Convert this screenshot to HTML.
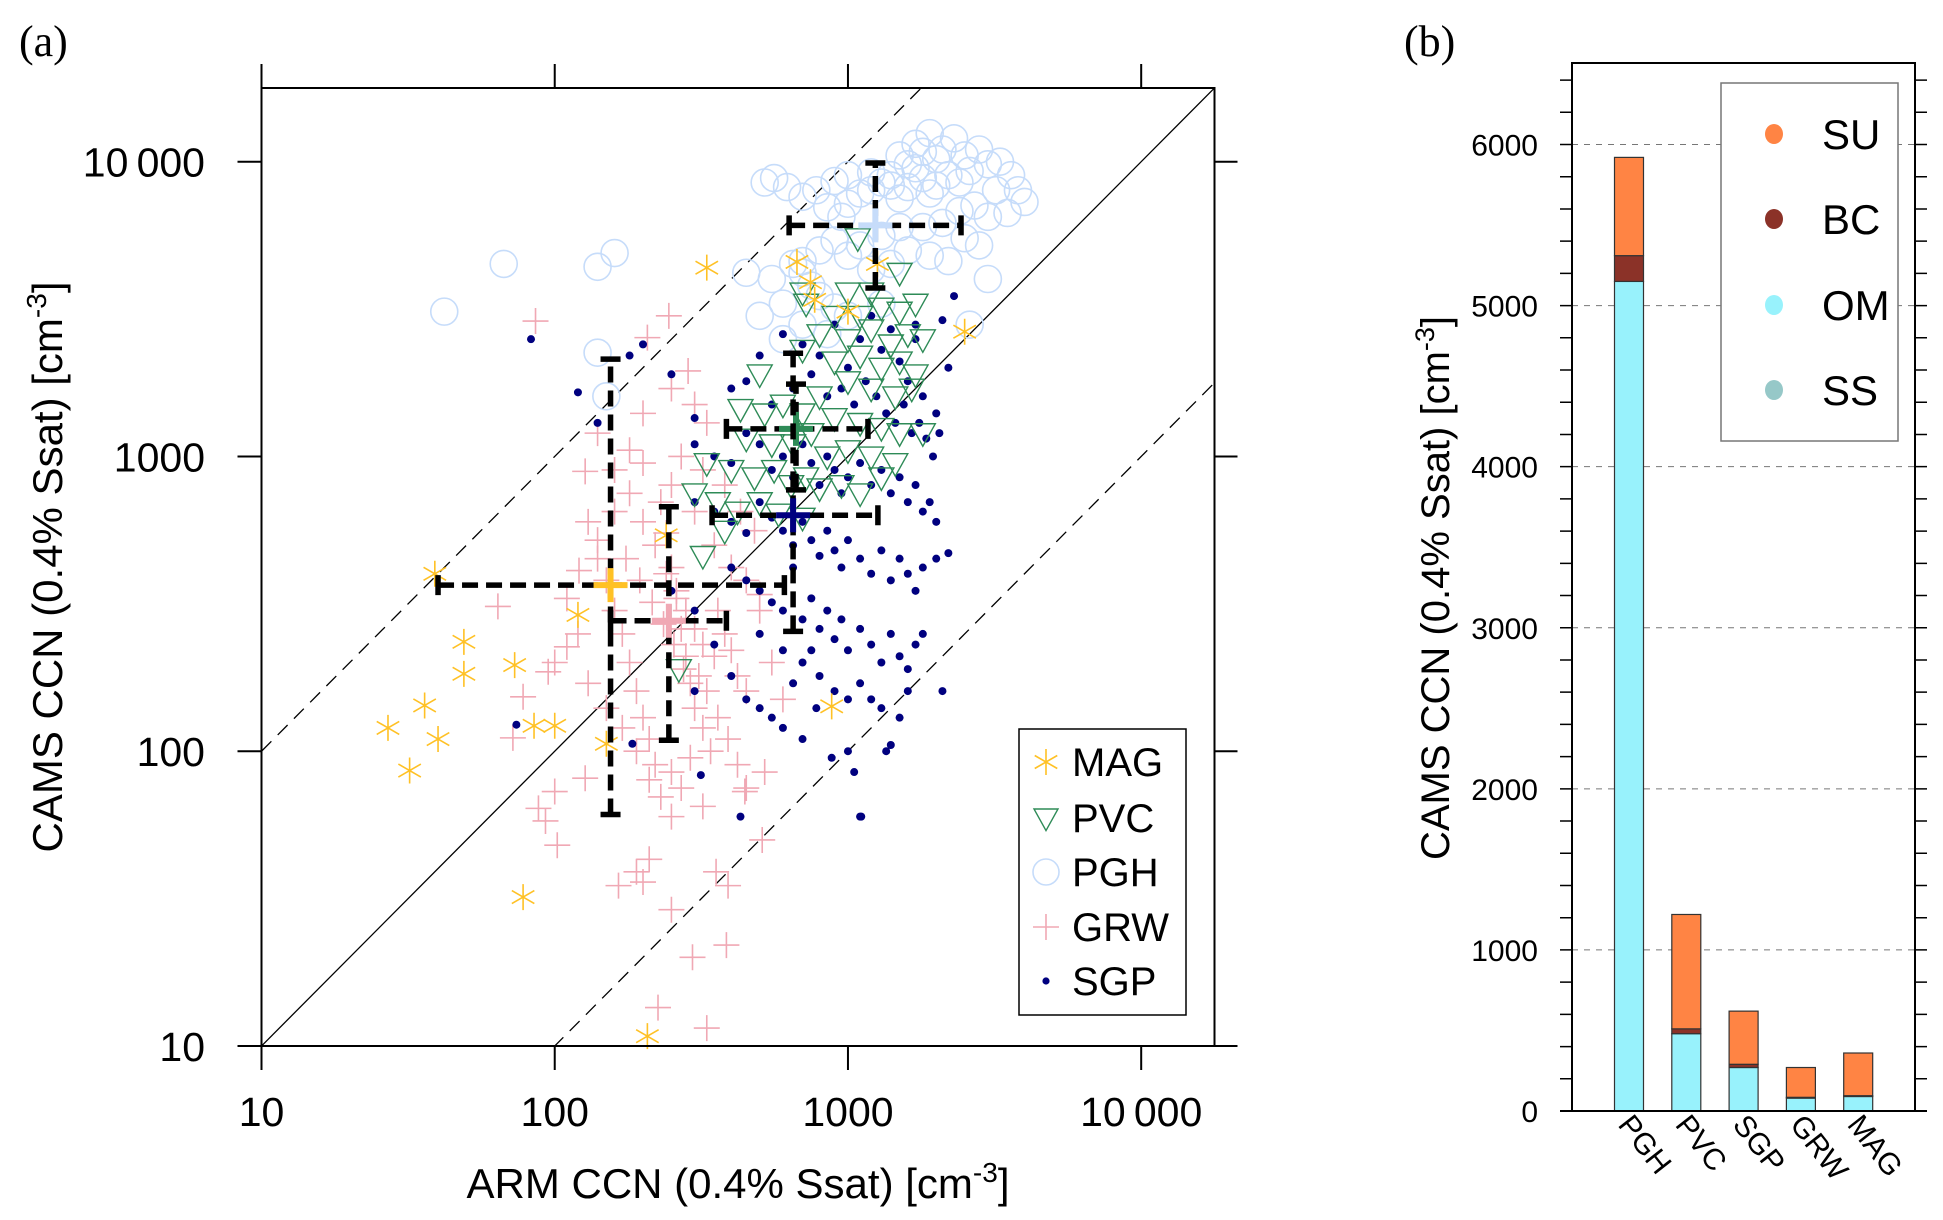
<!DOCTYPE html>
<html><head><meta charset="utf-8"><style>
html,body{margin:0;padding:0;background:#fff;overflow:hidden;width:1943px;height:1220px}
svg{display:block}
text{font-family:"Liberation Sans",sans-serif;fill:#000}
</style></head><body>
<svg id="fig" width="1943" height="1220" viewBox="0 0 1943 1220" xmlns="http://www.w3.org/2000/svg">
<g id="pa"></g>
<g id="pb"></g>
</svg>
<script>
// ---------- Panel (a) data ----------
const sgpX=[600,700,800,900,1000,1100,1200,1300,1400,1500,1600,1700,1800,2000,2200,2300,2100,500,450,400,550,650,750,850,950,1050,1150,1250,1350,1450,1550,1650,1750,1850,1950,2050,
300,350,400,450,500,550,600,650,700,750,800,850,900,950,1000,1100,1200,1300,1400,1500,1600,1700,1800,1900,2000,
300,350,400,450,500,550,600,650,700,750,800,850,900,950,1000,1100,1200,1300,1400,1500,1600,1700,1800,2000,2200,
400,450,500,550,600,650,700,750,800,850,900,950,1000,1100,1200,1300,1400,1500,1600,1700,1800,2100,500,600,700,800,900,1000,1100,1200,1300,1500,1600,
350,300,250,300,400,450,500,550,600,700,750,650,
83,250,1100,1350,1400,1050,1700,780,880,1000,140,200,120,180,300,74,184,315,430,1110];
const sgpY=[2600,2400,2200,2800,2000,2500,3000,2300,2700,2100,1800,2500,1600,1400,2000,3500,2900,2200,1800,1700,1500,1700,1900,1600,1700,1500,1800,1600,1400,1300,1500,1200,1300,1150,1000,1200,
1100,1000,950,1200,1100,900,1000,850,1100,950,800,1000,900,750,850,950,800,900,750,850,700,800,650,700,600,
700,650,600,550,700,620,560,500,600,520,460,560,480,420,520,450,400,480,380,450,400,350,420,450,470,
420,380,350,320,300,420,280,330,260,300,240,280,220,260,230,200,250,210,190,230,250,160,250,220,200,180,160,150,170,150,140,130,160,
230,300,350,160,180,150,140,130,120,110,220,170,
2500,1900,60,100,105,85,2800,140,95,100,1300,2400,1650,2200,1350,123,106,83,60,60];

const grwX=[86,207,245,285,64,295,385,330,225,250,200,165,210,190,355,390,510,93,102,88,100,127,250,320,520,445,72,78,110,95,121,127,
130,140,150,160,170,180,190,200,210,220,230,240,250,260,270,280,290,300,320,340,360,380,400,420,450,500,550,600,140,160,180,200,220,240,260,280,300,320,350,
200,250,300,350,400,450,500,120,110,100,130,150,170,190,210,230,250,270,290,310,330,360,390,420,450,175,195,215,235,255,275,300,330,250,200,180,160,140,270,320,380,430,480];
const grwY=[2880,2530,3000,1950,310,20,22,11.5,13.5,29,36,35,43,39,39,35,50,58,48,64,73,81,85,65,85,73,111,153,226,186,410,890,
600,450,380,300,250,200,160,130,110,90,700,550,420,330,260,210,170,140,120,100,300,250,220,180,160,300,200,150,1200,900,750,600,500,400,350,300,260,230,210,
950,800,650,500,420,380,340,250,330,200,170,140,120,100,80,70,60,75,95,180,160,130,110,90,75,450,380,320,270,230,190,1500,1300,1700,1400,1050,650,520,1000,900,800,650,560];

const pghX=[67,42,140,160,140,150,550,600,650,700,750,800,900,1000,700,850,600,500,450,520,560,620,700,780,850,900,950,1000,1100,1200,1300,1400,1500,1600,1700,1800,1900,2000,2200,2400,2600,2800,3000,3300,3600,3800,4000,3500,3000,2700,2400,2100,1800,1500,1300,1100,900,800,1600,1900,2200,2500,2800,1400,1200,1000,1500,1700,1900,2100,2300,1600,1400,1200,2500,2000,1800,1000,2600,1300,3000,3200,700];
const pghY=[4500,3100,4400,4900,2250,1600,4000,3300,4500,4200,3800,3500,3200,3000,2800,2600,2500,3000,4200,8500,8800,8200,7600,8000,7000,8600,6500,7200,7800,8000,8500,9000,7500,8200,9500,8800,7800,8300,9000,8500,9300,11000,9800,10000,9000,8000,7300,6700,6500,7100,6800,6200,6000,6000,5600,5200,5400,5000,5000,4800,4600,5500,5200,4500,4300,4800,10500,11500,12500,11000,12000,9800,8300,9200,10500,10200,10800,9000,2800,3300,4000,8000,4600];

const pvcX=[1080,1500,700,1000,1200,720,900,1100,1300,1500,1700,800,1000,1200,1400,1600,1800,700,900,1100,1300,1500,1700,500,1000,1200,1450,1650,800,430,520,600,700,900,1100,1300,1500,1800,450,550,650,750,850,1000,1200,1450,330,400,480,560,640,720,800,950,1100,1300,300,360,420,500,580,700,380,320,265];
const pvcY=[5500,4200,3600,3600,3600,3300,3000,3000,3200,3100,3300,2600,2500,2700,2400,2600,2500,2300,2100,2200,2000,2100,1900,1900,1800,1700,1600,1700,1600,1450,1400,1500,1400,1350,1300,1250,1200,1200,1150,1100,1100,1200,1000,1050,1000,950,950,900,850,900,800,850,780,800,750,850,750,700,650,700,640,620,560,460,190];

const magX=[330,670,745,770,1000,1260,2500,39,120,49,49,73,36,27,40,32,85,100,150,78,207,880,240];
const magY=[4370,4570,3900,3400,3100,4500,2650,400,290,235,183,196,143,120,110,86,122,122,106,32,10.8,142,540];

// mean and error-bar ranges, order: PGH, PVC, SGP, GRW, MAG
const meanNames=["PGH","PVC","SGP","GRW","MAG"];
const meanX=[1240,665,650,245,155];
const meanY=[6080,1240,632,277,366];
const errXlo=[630,385,344,155,40];
const errXhi=[2430,1170,1265,385,607];
const errYlo=[3730,770,255,109,61];
const errYhi=[9900,1760,2240,675,2140];

// ---------- Panel (b) data ----------
const sites=["PGH","PVC","SGP","GRW","MAG"];
const ssVals=[0,0,0,0,0];
const omVals=[5150,480,270,80,90];
const bcVals=[160,30,20,5,5];
const suVals=[610,710,330,185,265];
const bTicks=[0,1000,2000,3000,4000,5000,6000];

const NS="http://www.w3.org/2000/svg";
function mk(tag,attrs,parent){const e=document.createElementNS(NS,tag);for(const k in attrs)e.setAttribute(k,attrs[k]);parent.appendChild(e);return e;}

// ===== Panel a =====
const pa=document.getElementById('pa');
const L=261.5,R=1214.5,T=88,B=1046,LMIN=1,LMAX=4.25;
function X(v){return L+(Math.log10(v)-LMIN)/(LMAX-LMIN)*(R-L);}
function Y(v){return B-(Math.log10(v)-LMIN)/(LMAX-LMIN)*(B-T);}

let t=mk('text',{x:19,y:56,'font-size':44,style:'font-family:"Liberation Serif",serif'},pa);t.textContent='(a)';


const clip=mk('clipPath',{id:'clipa'},pa);mk('rect',{x:L,y:T,width:R-L,height:B-T},clip);
const lines=mk('g',{'clip-path':'url(#clipa)'},pa);

[[1,'none'],[10,'14 9'],[0.1,'14 9']].forEach(([f,d])=>{
  const l=mk('line',{x1:X(10),y1:Y(10*f),x2:X(100000),y2:Y(100000*f),stroke:'#000','stroke-width':1.3,'stroke-dasharray':d},lines);
  
});

// series
const gP=mk('g',{},pa);
pghX.forEach((v,i)=>{const c=mk('circle',{cx:X(v),cy:Y(pghY[i]),r:13.5,fill:'none',stroke:'#c6dcfa','stroke-width':1.6},gP);
});
const gG=mk('g',{},pa);
grwX.forEach((v,i)=>{const x=X(v),y=Y(grwY[i]);const p=mk('path',{d:`M${x-13} ${y}H${x+13}M${x} ${y-13}V${y+13}`,stroke:'#f0a8b4','stroke-width':1.6},gG);
});
const gS=mk('g',{},pa);
sgpX.forEach((v,i)=>{const c=mk('circle',{cx:X(v),cy:Y(sgpY[i]),r:4,fill:'#00007f'},gS);
});
function tri(x,y,s){return `M${x-s} ${y-s*0.75}L${x+s} ${y-s*0.75}L${x} ${y+s*1.05}Z`;}
const gV=mk('g',{},pa);
pvcX.forEach((v,i)=>{const p=mk('path',{d:tri(X(v),Y(pvcY[i]),12.5),fill:'none',stroke:'#2e8b57','stroke-width':1.4},gV);
});
function star(x,y,s){let d='';for(let k=0;k<3;k++){const a=Math.PI/2+k*Math.PI/3;d+=`M${x+s*Math.cos(a)} ${y+s*Math.sin(a)}L${x-s*Math.cos(a)} ${y-s*Math.sin(a)}`;}return d;}
const gM=mk('g',{},pa);
magX.forEach((v,i)=>{const p=mk('path',{d:star(X(v),Y(magY[i]),13),stroke:'#ffc125','stroke-width':1.6,fill:'none'},gM);
});

// error bars and means
const meanCol=["#c6dcfa","#2e8b57","#00007f","#f0a8b4","#ffc125"];
meanNames.forEach((n,i)=>{
  const g=mk('g',{},pa);
  
  
  const mx=X(meanX[i]),my=Y(meanY[i]),x0=X(errXlo[i]),x1=X(errXhi[i]),y0=Y(errYlo[i]),y1=Y(errYhi[i]);
  mk('line',{x1:x0,y1:my,x2:x1,y2:my,stroke:'#000','stroke-width':5.5,'stroke-dasharray':'16 8'},g);
  mk('line',{x1:mx,y1:y0,x2:mx,y2:y1,stroke:'#000','stroke-width':5.5,'stroke-dasharray':'16 8'},g);
  mk('path',{d:`M${x0} ${my-10}V${my+10}M${x1} ${my-10}V${my+10}M${mx-10} ${y0}H${mx+10}M${mx-10} ${y1}H${mx+10}`,stroke:'#000','stroke-width':5.5},g);
  mk('path',{d:`M${mx-17} ${my}H${mx+17}M${mx} ${my-17}V${my+17}`,stroke:meanCol[i],'stroke-width':6},g);
});

// frame and ticks
const fr=mk('g',{stroke:'#000','stroke-width':2,fill:'none'},pa);

mk('path',{d:`M${L} ${T}H${R}V${B}M${L} ${T-24}V${B+24}M${L} ${B}H${R+23}`},fr);
const xt=[10,100,1000,10000],xl=["10","100","1000","10\u2009000"];
xt.forEach((v,i)=>{
  mk('path',{d:`M${X(v)} ${B}V${B+24}M${X(v)} ${T}V${T-24}M${L} ${Y(v)}H${L-24}M${R} ${Y(v)}H${R+23}`},fr);
  let tx=mk('text',{x:X(v),y:B+80,'font-size':41,'text-anchor':'middle'},pa);tx.textContent=xl[i];
  
  let ty=mk('text',{x:205,y:Y(v)+15,'font-size':41,'text-anchor':'end'},pa);ty.textContent=xl[i];
  
});
let xtit=mk('text',{x:738,y:1198,'font-size':42,'text-anchor':'middle'},pa);
xtit.innerHTML='ARM CCN (0.4% Ssat) [cm<tspan dy="-16" font-size="28">-3</tspan><tspan dy="16">]</tspan>';

let ytit=mk('text',{x:0,y:0,'font-size':42,'text-anchor':'middle',transform:'translate(62,567) rotate(-90)'},pa);
ytit.innerHTML='CAMS CCN (0.4% Ssat) [cm<tspan dy="-16" font-size="28">-3</tspan><tspan dy="16">]</tspan>';


// legend a
const lg=mk('g',{},pa);
mk('rect',{x:1019,y:729,width:167,height:286,fill:'#fff',stroke:'#000','stroke-width':1.5},lg);
const legN=["MAG","PVC","PGH","GRW","SGP"],legY=[762,818,872,927,981];
legN.forEach((n,i)=>{
  const y=legY[i],x=1046;
  if(n==="MAG")mk('path',{d:star(x,y,13),stroke:'#ffc125','stroke-width':1.6},lg);
  if(n==="PVC")mk('path',{d:tri(x,y,12),fill:'none',stroke:'#2e8b57','stroke-width':1.4},lg);
  if(n==="PGH")mk('circle',{cx:x,cy:y,r:13,fill:'none',stroke:'#c6dcfa','stroke-width':1.6},lg);
  if(n==="GRW")mk('path',{d:`M${x-13} ${y}H${x+13}M${x} ${y-13}V${y+13}`,stroke:'#f0a8b4','stroke-width':1.6},lg);
  if(n==="SGP")mk('circle',{cx:x,cy:y,r:3.6,fill:'#00007f'},lg);
  const tt=mk('text',{x:1072,y:y+14,'font-size':40},lg);tt.textContent=n;
  
});

// ===== Panel b =====
const pb=document.getElementById('pb');
const BL=1572,BR=1915,BT=63,BB=1111,VMAX=6506;
function YB(v){return BB-v/VMAX*(BB-BT);}
const BW=29,BX0=1629,BSP=57.3;
function XB(i){return BX0+i*BSP;}
let tb=mk('text',{x:1404,y:56,'font-size':44,style:'font-family:"Liberation Serif",serif'},pb);tb.textContent='(b)';

const gr=mk('g',{},pb);
bTicks.forEach(v=>{ if(v>0) mk('line',{x1:BL,x2:BR,y1:YB(v),y2:YB(v),stroke:'#777','stroke-width':1,'stroke-dasharray':'6 6'},gr);});
const bars=mk('g',{},pb);
const layers=[[ssVals,'#96c8c8','ss'],[omVals,'#98f2fc','om'],[bcVals,'#8b3228','bc'],[suVals,'#ff8444','su']];
sites.forEach((s,i)=>{
  let base=0;
  layers.forEach(([arr,col,nm])=>{
    const v=arr[i];if(v<=0)return;
    const r=mk('rect',{x:XB(i)-BW/2,y:YB(base+v),width:BW,height:YB(base)-YB(base+v),fill:col,stroke:'#333','stroke-width':1.2},bars);
    
    base+=v;
  });
  const lt=mk('text',{x:0,y:0,'font-size':30,transform:`translate(${XB(i)-12},${BB+14}) rotate(52)`},pb);lt.textContent=s;
  
});
const fb=mk('g',{stroke:'#000','stroke-width':2,fill:'none'},pb);

mk('path',{d:`M${BL} ${BB}V${BT}H${BR}V${BB}M${BL-12} ${BB}H${BR+12}`},fb);
for(let v=0;v<=6400;v+=200){mk('path',{d:`M${BL} ${YB(v)}H${BL-12}M${BR} ${YB(v)}H${BR+12}`,'stroke-width':1.5},fb);}
bTicks.forEach(v=>{const tt=mk('text',{x:1538,y:YB(v)+11,'font-size':30,'text-anchor':'end'},pb);tt.textContent=String(v);
});
let ytb=mk('text',{x:0,y:0,'font-size':40,'text-anchor':'middle',transform:'translate(1449,588) rotate(-90)'},pb);
ytb.innerHTML='CAMS CCN (0.4% Ssat) [cm<tspan dy="-15" font-size="27">-3</tspan><tspan dy="15">]</tspan>';

const lb=mk('g',{},pb);
mk('rect',{x:1721,y:83,width:177,height:358,fill:'#fff',stroke:'#777','stroke-width':1.5},lb);
[["SU",'#ff8444',134],["BC",'#8b3228',219],["OM",'#98f2fc',305],["SS",'#96c8c8',390]].forEach(([n,c,y])=>{
  mk('ellipse',{cx:1774,cy:y,rx:9,ry:10,fill:c},lb);
  const tt=mk('text',{x:1822,y:y+15,'font-size':42},lb);tt.textContent=n;
  
});
</script>
</body></html>
